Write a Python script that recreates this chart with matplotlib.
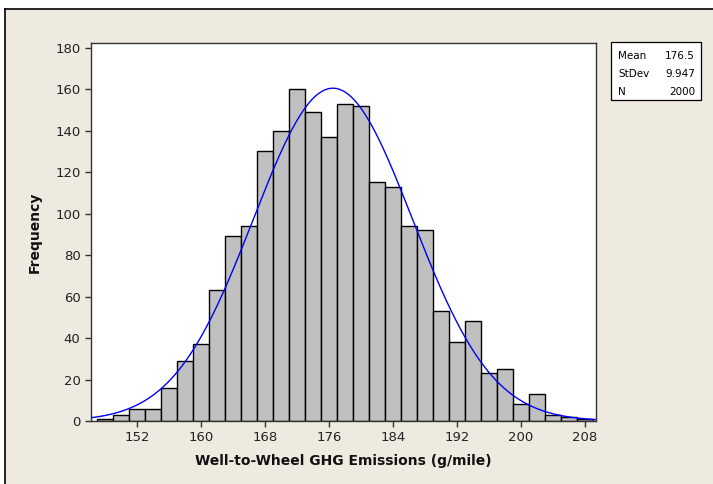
import numpy as np
import matplotlib
matplotlib.use("Agg")
import matplotlib.pyplot as plt
from matplotlib.patches import Rectangle
from matplotlib.lines import Line2D

# Data
bin_centers = [148, 150, 152, 154, 156, 158, 160, 162, 164, 166, 168, 170, 172,
               174, 176, 178, 180, 182, 184, 186, 188, 190, 192, 194, 196, 198,
               200, 202, 204, 206, 208]
frequencies = [1, 3, 6, 6, 16, 29, 37, 63, 89, 94, 130, 140, 160, 149, 137, 153,
               152, 115, 113, 94, 92, 53, 38, 48, 23, 25, 8, 13, 3, 2, 1]
bin_width = 2
mean_val = 176.5
std_val = 9.947
n_val = 2000
x_ticks = [152, 160, 168, 176, 184, 192, 200, 208]
y_ticks = [0, 20, 40, 60, 80, 100, 120, 140, 160, 180]

bg = "#EEEAE0"
W, H = 713, 484
fig = plt.figure(figsize=(W/100, H/100), dpi=100)
fig.patch.set_facecolor("white")
# beige panel with border on left and top
fig.patches.append(Rectangle((4/W, 0), 1.0, 1 - 9/H, transform=fig.transFigure,
                             facecolor=bg, edgecolor="none", zorder=-10))
fig.lines.append(Line2D([4.5/W, 4.5/W], [0, 1 - 9/H], transform=fig.transFigure,
                        color="black", linewidth=1.2))
fig.lines.append(Line2D([4.5/W, 1], [1 - 9/H, 1 - 9/H], transform=fig.transFigure,
                        color="black", linewidth=1.2))

ax = fig.add_axes([91/W, 1 - 421/H, (596 - 91)/W, (421 - 43)/H])
ax.set_facecolor("white")
ax.bar(bin_centers, frequencies, width=bin_width, color="#C0C0C0",
       edgecolor="black", linewidth=1.0, zorder=2)

xs = np.linspace(146.25, 209.4, 400)
pdf = n_val * bin_width / (std_val * np.sqrt(2 * np.pi)) * np.exp(-0.5 * ((xs - mean_val) / std_val) ** 2)
ax.plot(xs, pdf, color="#0000FF", linewidth=1.0, zorder=3)

ax.set_xlim(146.25, 209.4)
ax.set_ylim(0, 182.2)
ax.set_xticks(x_ticks)
ax.set_yticks(y_ticks)
ax.tick_params(axis="both", direction="out", length=4, width=1, labelsize=9.5,
               color="#333333", labelcolor="#222222")
for s in ax.spines.values():
    s.set_color("#333333")
    s.set_linewidth(1.0)
ax.set_xlabel("Well-to-Wheel GHG Emissions (g/mile)", fontsize=10, fontweight="bold",
              labelpad=7, color="#111111")
ax.set_ylabel("Frequency", fontsize=10, fontweight="bold", labelpad=10, color="#111111")

# stats box
bx0, by0, bx1, by1 = 611, 42, 701, 100
fig.patches.append(Rectangle((bx0/W, 1 - by1/H), (bx1 - bx0)/W, (by1 - by0)/H,
                             transform=fig.transFigure, facecolor="white",
                             edgecolor="black", linewidth=0.9))
rows = [("Mean", f"{mean_val}"), ("StDev", f"{std_val}"), ("N", f"{n_val}")]
for i, (k, v) in enumerate(rows):
    yy = 1 - (56 + i * 18) / H
    fig.text(618/W, yy, k, fontsize=7.5, va="center", ha="left")
    fig.text(695/W, yy, v, fontsize=7.5, va="center", ha="right")

fig.savefig("out.png", dpi=100, facecolor=fig.get_facecolor())
